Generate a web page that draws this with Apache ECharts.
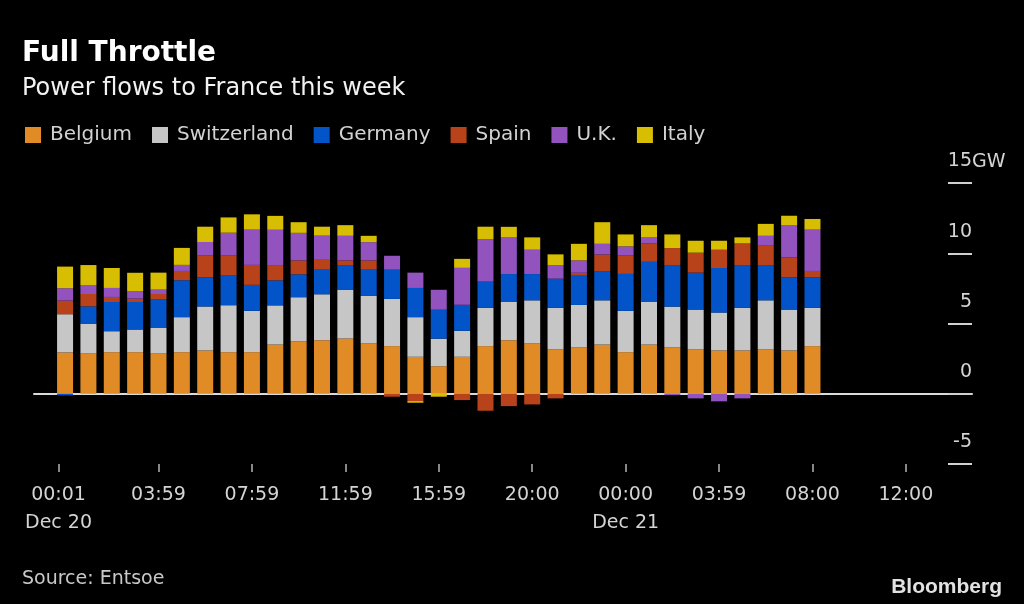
<!DOCTYPE html>
<html>
<head>
<meta charset="utf-8">
<script src="https://cdn.jsdelivr.net/npm/echarts@6/dist/echarts.min.js"></script>
<style>
  html, body { margin: 0; padding: 0; background: #000; }
  #main { width: 1024px; height: 604px; }
</style>
</head>
<body>
<div id="main"></div>
<script>
// hours since midnight Dec 20, one bar per hour
var hours = [0, 1, 2, 3, 4, 5, 6, 7, 8, 9, 10, 11, 12, 13, 14, 15, 16,
  17, 18, 19, 20, 21, 22, 23, 24, 25, 26, 27, 28, 29, 30, 31, 32];

// GW
var belgium = [2.94, 2.86, 2.96, 2.96, 2.86, 2.96, 3.08, 2.96, 2.96, 3.50,
  3.72, 3.81, 3.93, 3.60, 3.39, 2.63, 1.96, 2.63, 3.39, 3.81,
  3.60, 3.17, 3.29, 3.50, 2.96, 3.50, 3.29, 3.17, 3.08, 3.08,
  3.17, 3.08, 3.39];
var switzerland = [2.72, 2.13, 1.49, 1.61, 1.82, 2.49, 3.13, 3.34, 2.94, 2.79,
  3.15, 3.27, 3.48, 3.36, 3.36, 2.82, 1.96, 1.85, 2.72, 2.72,
  3.05, 2.94, 3.03, 3.15, 2.94, 3.03, 2.91, 2.82, 2.70, 3.03,
  3.48, 2.91, 2.72];
var germany = [-0.12, 1.23, 2.08, 1.96, 2.06, 2.63, 2.08, 2.11, 1.85, 1.78,
  1.63, 1.75, 1.75, 1.87, 2.08, 2.08, 2.06, 1.85, 1.87, 1.99,
  1.87, 2.08, 2.08, 2.08, 2.63, 2.86, 2.96, 2.63, 3.17, 3.05,
  2.51, 2.30, 2.18];
var spain = [0.97, 0.88, 0.36, 0.24, 0.36, 0.66, 1.54, 1.42, 1.42, 1.09,
  0.99, 0.76, 0.33, 0.66, -0.21, -0.52, 0, -0.45, -1.21, -0.88,
  -0.76, -0.33, 0.21, 1.18, 1.30, 1.30, 1.21, 1.42, 1.30, 1.54,
  1.42, 1.42, 0.45];
var uk = [0.88, 0.64, 0.64, 0.54, 0.31, 0.43, 0.97, 1.63, 2.51, 2.51,
  1.96, 1.66, 1.75, 1.30, 0.99, 1.09, 1.42, 2.63, 3.03, 2.60,
  1.73, 0.97, 0.88, 0.76, 0.66, 0.43, -0.10, -0.33, -0.54, -0.33,
  0.66, 2.30, 2.94];
var italy = [1.54, 1.42, 1.42, 1.30, 1.21, 1.21, 1.09, 1.09, 1.09, 0.99,
  0.76, 0.64, 0.76, 0.45, 0, -0.12, -0.21, 0.64, 0.88, 0.76,
  0.88, 0.76, 1.18, 1.54, 0.85, 0.88, 0.97, 0.85, 0.64, 0.43,
  0.85, 0.66, 0.76];

// x tick labels (first tick sits a little left of the first bar in the original)
var tickHours = [-0.28, 4, 8, 12, 16, 20, 24, 28, 32, 36];
var timeLabels = ["00:01", "03:59", "07:59", "11:59", "15:59", "20:00", "00:00", "03:59", "08:00", "12:00"];
var dateLabels = ["Dec 20", "", "", "", "", "", "Dec 21", "", "", ""];

var countries = ["Belgium", "Switzerland", "Germany", "Spain", "U.K.", "Italy"];
var values = [belgium, switzerland, germany, spain, uk, italy];
var colors = ["#e08b26", "#c6c6c6", "#0254c8", "#b8431b", "#9253bf", "#d8be02"];

var font = "DejaVu Sans";

// value first, hour second: the stack then sums the GW column, not the hours
function rows(arr) {
  return arr.map(function (v, i) { return [v, hours[i]]; });
}

var series = countries.map(function (name, k) {
  return {
    name: name,
    type: "bar",
    stack: "flow",
    xAxisIndex: 0,
    barWidth: 16,
    encode: { x: 1, y: 0 },
    itemStyle: { color: colors[k] },
    data: rows(values[k])
  };
});

var xMin = -1.33;
var xMax = 38.83;

var option = {
  backgroundColor: "#000",
  animation: false,
  color: colors,
  title: [
    { text: "Full Throttle", left: 22, top: 40, padding: 0,
      textStyle: { color: "#fff", fontFamily: font, fontSize: 28, fontWeight: "bold", lineHeight: 28 } },
    { text: "Power flows to France this week", left: 22, top: 77, padding: 0,
      textStyle: { color: "#f2f2f2", fontFamily: font, fontSize: 24, fontWeight: "normal", lineHeight: 24 } },
    { text: "Source: Entsoe", left: 22, top: 570, padding: 0,
      textStyle: { color: "#c8c8c8", fontFamily: font, fontSize: 19, fontWeight: "normal", lineHeight: 19 } },
    { text: "Bloomberg", right: 22, top: 577, padding: 0,
      textStyle: { color: "#e2e2e2", fontFamily: "Liberation Sans", fontSize: 21, fontWeight: "bold", lineHeight: 21 } }
  ],
  legend: {
    left: 25,
    top: 125,
    padding: 0,
    icon: "rect",
    itemWidth: 16,
    itemHeight: 16,
    itemGap: 20,
    data: countries,
    textStyle: { color: "#d2d2d2", fontFamily: font, fontSize: 20, padding: [0, 0, 0, 4] }
  },
  grid: { left: 34, right: 52, top: 183, bottom: 140 },
  xAxis: [
    {
      // zero line across the plot
      type: "value", min: xMin, max: xMax, position: "bottom",
      axisLine: { show: true, onZero: true, lineStyle: { color: "#dadada", width: 2 } },
      axisTick: { show: false }, axisLabel: { show: false }, splitLine: { show: false }
    },
    {
      type: "value", min: xMin, max: xMax, position: "bottom",
      axisLine: { show: false, onZero: false },
      splitLine: { show: false },
      axisTick: { show: true, length: 8, customValues: tickHours,
        lineStyle: { color: "#b4b4b4", width: 1.5 } },
      axisLabel: {
        show: true, margin: 17, customValues: tickHours,
        color: "#d4d4d4", fontFamily: font, fontSize: 19, lineHeight: 28,
        formatter: function (v) {
          for (var k = 0; k < tickHours.length; k++) {
            if (Math.abs(tickHours[k] - v) < 1e-6) return timeLabels[k] + "\n" + dateLabels[k];
          }
          return "";
        }
      }
    }
  ],
  yAxis: {
    type: "value", position: "right", min: -5, max: 15, interval: 5,
    name: "GW", nameLocation: "end", nameGap: 21, nameMoveOverlap: false,
    nameTextStyle: { color: "#d4d4d4", fontFamily: font, fontSize: 19, align: "left", verticalAlign: "middle" },
    axisLine: { show: false, onZero: false },
    splitLine: { show: false },
    axisTick: { show: true, inside: true, length: 24, lineStyle: { color: "#d0d0d0", width: 2 } },
    axisLabel: {
      inside: true, margin: 0, color: "#d4d4d4", fontFamily: font, fontSize: 19,
      verticalAlign: "bottom", lineHeight: 19, padding: [0, 0, 12, 0]
    }
  },
  series: series
};

var myChart = echarts.init(document.getElementById("main"));
myChart.setOption(option);
</script>
</body>
</html>
